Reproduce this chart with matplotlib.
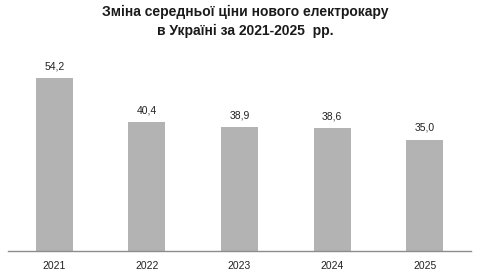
import matplotlib.pyplot as plt

years = ['2021', '2022', '2023', '2024', '2025']
prices = [54.2, 40.4, 38.9, 38.6, 35.0]
value_labels = ['54,2', '40,4', '38,9', '38,6', '35,0']

fig = plt.figure(figsize=(4.81, 2.80), dpi=100)
# axes box in pixels: x 8..471, y 60..251 (from top)
ax = fig.add_axes([8 / 481, 1 - 251 / 280, 463 / 481, 191 / 280])

x = range(len(years))
bars = ax.bar(x, prices, width=0.4, color='#b3b3b3')
for b, lab in zip(bars, value_labels):
    ax.text(b.get_x() + b.get_width() / 2, b.get_height() + 3.8, lab,
            ha='center', va='center', fontsize=7.5, family='Liberation Sans',
            color='#222222')

ax.set_xlim(-0.5, len(years) - 0.5)
ax.set_ylim(0, 60)
ax.set_xticks(list(x))
ax.set_xticklabels(years, fontsize=7.5, family='Liberation Sans', color='#222222')
ax.tick_params(axis='x', length=0, pad=7)
ax.set_yticks([])
for s in ['top', 'right', 'left']:
    ax.spines[s].set_visible(False)
ax.spines['bottom'].set_color('#8c8c8c')
ax.spines['bottom'].set_linewidth(1.0)

fig.text(0.509, 1 - 12 / 280, 'Зміна середньої ціни нового електрокару',
         ha='center', va='center', fontsize=10, fontweight='bold',
         family='Liberation Sans', color='#1a1a1a')
fig.text(0.509, 1 - 31 / 280, 'в Україні за 2021-2025  рр.',
         ha='center', va='center', fontsize=10, fontweight='bold',
         family='Liberation Sans', color='#1a1a1a')

fig.savefig('out.png', dpi=100)
